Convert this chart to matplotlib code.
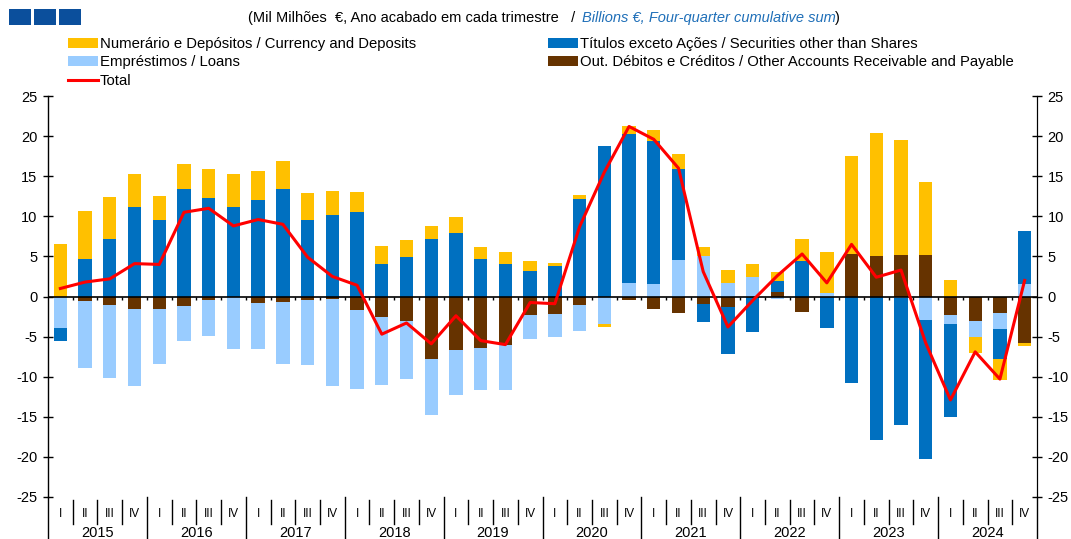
import matplotlib
matplotlib.use("Agg")
import matplotlib.pyplot as plt
import matplotlib.transforms as mtransforms
from matplotlib.patches import Patch, Rectangle
from matplotlib.lines import Line2D
import numpy as np

plt.rcParams["font.family"] = ["Liberation Sans", "DejaVu Sans"]
plt.rcParams["axes.unicode_minus"] = False

years = ["2015", "2016", "2017", "2018", "2019", "2020", "2021", "2022", "2023", "2024"]
quarters = ["I", "II", "III", "IV"]

# Billions EUR, four-quarter cumulative sum
other_accounts = [0.0, -0.5, -1.0, -1.5, -1.5, -1.2, -0.4, -0.1, -0.75, -0.7,
                  -0.4, -0.3, -1.7, -2.6, -3.0, -7.8, -6.7, -6.4, -6.1, -2.3,
                  -2.2, -1.0, 0.0, -0.4, -1.6, -2.0, -0.9, -1.25, 0.0, 0.55,
                  -1.95, 0.0, 5.3, 5.1, 5.2, 5.2, -2.3, -3.0, -2.0, -5.8]
loans = [-3.9, -8.4, -9.1, -9.6, -6.9, -4.4, -4.5, -6.4, -5.8, -7.7,
         -8.1, -10.8, -9.8, -8.4, -7.3, -6.95, -5.6, -5.2, -5.5, -2.95,
         -2.8, -3.3, -3.4, 1.7, 1.55, 4.6, 5.0, 1.7, 2.4, -0.3,
         0.0, 0.4, 0.0, 0.0, -0.2, -2.9, -1.1, -2.1, -2.1, 1.6]
securities = [-1.6, 4.7, 7.2, 11.1, 9.6, 13.4, 12.3, 11.1, 12.0, 13.4,
              9.5, 10.2, 10.5, 4.0, 4.9, 7.2, 7.9, 4.7, 4.0, 3.2,
              3.75, 12.1, 18.75, 18.5, 17.85, 11.35, -2.3, -5.9, -4.45, 1.35,
              4.45, -3.9, -10.8, -17.9, -15.8, -17.3, -11.6, 0.0, -3.65, 6.6]
currency = [6.6, 5.9, 5.2, 4.2, 2.9, 3.1, 3.6, 4.2, 3.6, 3.5,
            3.4, 2.9, 2.5, 2.3, 2.1, 1.6, 2.0, 1.5, 1.5, 1.2,
            0.4, 0.6, -0.35, 1.05, 1.35, 1.8, 1.2, 1.65, 1.65, 1.2,
            2.75, 5.2, 12.2, 15.3, 14.3, 9.1, 2.1, -1.9, -2.65, -0.4]
total = [1.0, 1.8, 2.2, 4.1, 4.0, 10.5, 11.0, 8.8, 9.6, 9.0,
         4.9, 2.5, 1.4, -4.7, -3.3, -5.9, -2.4, -5.5, -6.0, -0.75,
         -0.9, 8.7, 15.5, 21.2, 19.6, 16.0, 3.1, -3.8, -0.5, 2.6,
         5.3, 1.7, 6.5, 2.4, 3.3, -5.8, -12.9, -6.9, -10.3, 2.0]

labels = {
    "cur": "Numerário e Depósitos / Currency and Deposits",
    "sec": "Títulos exceto Ações / Securities other than Shares",
    "loans": "Empréstimos / Loans",
    "other": "Out. Débitos e Créditos / Other Accounts Receivable and Payable",
    "total": "Total",
}
colors = {"cur": "#FFC000", "sec": "#0070C0", "loans": "#99CCFF", "other": "#663300"}

fig = plt.figure(figsize=(10.71, 5.39), dpi=100)
ax = fig.add_axes([48 / 1071, 1 - 497 / 539, 989 / 1071, 401 / 539])

x = np.arange(len(total))
pos_bottom = np.zeros(len(x))
neg_bottom = np.zeros(len(x))
# stacking order as in the original: other, loans, securities, currency
for key, vals in [("other", other_accounts), ("loans", loans),
                  ("sec", securities), ("cur", currency)]:
    v = np.array(vals)
    bottom = np.where(v >= 0, pos_bottom, neg_bottom)
    ax.bar(x, v, bottom=bottom, width=0.54, color=colors[key], linewidth=0, zorder=2)
    pos_bottom += np.where(v >= 0, v, 0)
    neg_bottom += np.where(v < 0, v, 0)

ax.plot(x, total, color="#FF0000", lw=2.2, zorder=4)

ax.axhline(0, color="black", lw=1.2, zorder=3)
ax.vlines(x[:-1] + 0.5, -0.45, 0, color="black", lw=1, zorder=3)

ax.set_xlim(-0.5, len(x) - 0.5)
ax.set_ylim(-25, 25)
ax.set_yticks(np.arange(-25, 26, 5))
ax.set_xticks([])
for s in ["top", "bottom"]:
    ax.spines[s].set_visible(False)
ax.spines["left"].set_linewidth(1.0)
ax.tick_params(axis="y", direction="inout", length=7, width=1, labelsize=10.5, pad=4)

ax2 = ax.twinx()
ax2.set_ylim(-25, 25)
ax2.set_yticks(np.arange(-25, 26, 5))
for s in ["top", "bottom", "left"]:
    ax2.spines[s].set_visible(False)
ax2.tick_params(axis="y", direction="inout", length=7, width=1, labelsize=10.5, pad=4)

# category axis below the plot
trans = mtransforms.blended_transform_factory(ax.transData, ax.transAxes)
for i in x:
    ax.text(i, -0.042, quarters[i % 4], transform=trans, ha="center", va="center",
            fontsize=8.5, clip_on=False)
    if (i + 1) % 4 != 0:
        ax.add_line(Line2D([i + 0.5, i + 0.5], [-0.008, -0.068], transform=trans,
                           color="black", lw=1, clip_on=False))
for k in range(len(years) + 1):
    ax.add_line(Line2D([4 * k - 0.5, 4 * k - 0.5], [0, -0.11], transform=trans,
                       color="black", lw=1, clip_on=False))
for k, yr in enumerate(years):
    ax.text(4 * k + 1.5, -0.09, yr, transform=trans, ha="center", va="center",
            fontsize=10.5, clip_on=False)

# header squares
for x0 in [9, 34, 59]:
    fig.patches.append(Rectangle((x0 / 1071, 1 - 25 / 539), 22 / 1071, 16 / 539,
                                 transform=fig.transFigure, facecolor="#0B4F9C",
                                 edgecolor="none"))

fig.text(575 / 1071, 1 - 18 / 539, "(Mil Milhões  €, Ano acabado em cada trimestre   /",
         ha="right", va="center", fontsize=10.5)
fig.text(582 / 1071, 1 - 18 / 539, "Billions €, Four-quarter cumulative sum",
         ha="left", va="center", fontsize=10.5, style="italic", color="#1F6FB8")
fig.text(835 / 1071, 1 - 18 / 539, ")", ha="left", va="center", fontsize=10.5)

leg_kw = dict(loc="upper left", frameon=False, fontsize=10.7, borderpad=0, borderaxespad=0,
              handlelength=2.0, handleheight=0.68, handletextpad=0.15, labelspacing=0.3)
h_cur = Patch(facecolor=colors["cur"], label=labels["cur"])
h_loans = Patch(facecolor=colors["loans"], label=labels["loans"])
h_total = Line2D([], [], color="#FF0000", lw=2.2, label=labels["total"])
h_sec = Patch(facecolor=colors["sec"], label=labels["sec"])
h_other = Patch(facecolor=colors["other"], label=labels["other"])
fig.legend(handles=[h_cur, h_loans, h_total], bbox_to_anchor=(68 / 1071, 1 - 37 / 539), **leg_kw)
fig.legend(handles=[h_sec, h_other], bbox_to_anchor=(548 / 1071, 1 - 37 / 539), **leg_kw)

fig.savefig("out.png", dpi=100)
